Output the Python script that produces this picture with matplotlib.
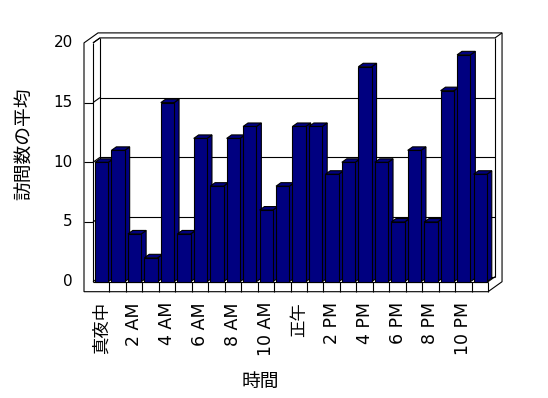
import numpy as np
import matplotlib
matplotlib.use("Agg")
import matplotlib.pyplot as plt
from matplotlib.patches import Polygon

# Data (average visits per hour)
hours = ['真夜中', '1 AM', '2 AM', '3 AM', '4 AM', '5 AM', '6 AM', '7 AM', '8 AM', '9 AM',
         '10 AM', '11 AM', '正午', '1 PM', '2 PM', '3 PM', '4 PM', '5 PM', '6 PM', '7 PM',
         '8 PM', '9 PM', '10 PM', '11 PM']
visits = [10, 11, 4, 2, 15, 4, 12, 8, 12, 13, 6, 8, 13, 13, 9, 10, 18, 10, 5, 11, 5, 16, 19, 9]
y_ticks = [0, 5, 10, 15, 20]
x_title = '時間'
y_title = '訪問数の平均'

bar_color = '#000080'
fonts = ['DejaVu Sans', 'Noto Sans CJK JP']

# pixel layout of the plot box (figure is 548x398)
W, H = 548, 398
cell_px, val_px = 16.46, 11.94
x0_px, y0_px = 93, 281.7

def px_x(p):
    return (p - x0_px) / cell_px

def px_y(p):
    return (y0_px - p) / val_px

DX, DY = 7 / cell_px, 5 / val_px      # one step of depth
n = len(visits)
top = y_ticks[-1]
xo = px_x(84)       # outer edge of the side wall
yb = px_y(291.7)    # underside of the floor

fig = plt.figure(figsize=(W / 100, H / 100), dpi=100)
ax = fig.add_axes([0, 0, 1, 1])
ax.set_xlim(px_x(0), px_x(W))
ax.set_ylim(px_y(H), px_y(0))
ax.axis('off')

lw = 0.8
def line(xs, ys, z=1):
    ax.plot(xs, ys, color='black', lw=lw, zorder=z, solid_capstyle='butt')

# walls and floor
outline = [(xo, top), (xo + 2 * DX, top + 2 * DY), (n + 2 * DX, top + 2 * DY),
           (n + 2 * DX, yb + 2 * DY), (n, yb), (xo, yb)]
ax.add_patch(Polygon(outline, closed=True, facecolor='white', edgecolor='black', lw=lw, zorder=0.5))

line([0, 0], [top, 0])
line([0, n], [0, 0])
line([0, DX, n + DX, n + 2 * DX], [top, top + DY, top + DY, top + 2 * DY])
line([DX, DX], [top + DY, DY])
line([n + DX, n + DX], [top + DY, DY])
line([n, n + DX], [0, DY])
line([n, n], [0, yb])
line([DX, n + DX], [DY, DY])
for k in range(1, n):
    line([k, k], [0, yb])
for v in y_ticks:
    line([0, DX], [v, v + DY])
    if 0 < v < top:
        line([xo, 0], [v, v])
        line([DX, n + DX], [v + DY, v + DY])

# 3D columns
bd = 0.7
x_left = np.arange(n) + 0.12
bw = 0.81
bars = ax.bar(x_left, visits, width=bw, align='edge', color=bar_color,
              edgecolor='black', linewidth=lw)
for i, (b, v) in enumerate(zip(bars, visits)):
    x0, x1 = x_left[i], x_left[i] + bw
    z = 2 + i * 0.01
    side = [(x1, 0), (x1 + bd * DX, bd * DY), (x1 + bd * DX, v + bd * DY), (x1, v)]
    cap = [(x0, v), (x1, v), (x1 + bd * DX, v + bd * DY), (x0 + bd * DX, v + bd * DY)]
    ax.add_patch(Polygon(side, closed=True, facecolor=bar_color, edgecolor='black', lw=lw, zorder=z))
    ax.add_patch(Polygon(cap, closed=True, facecolor=bar_color, edgecolor='black', lw=lw, zorder=z))
    b.set_zorder(z + 0.005)

# tick labels
for v in y_ticks:
    ax.text(px_x(72.7), v, str(v), ha='right', va='center', fontsize=11, family=fonts)
for i in range(0, n, 2):
    ax.text(i + 0.5, px_y(302), hours[i], rotation=90, ha='center', va='top',
            fontsize=12.5, family=fonts)

ax.text(px_x(260.5), px_y(381), x_title, ha='center', va='center', fontsize=13.5, family=fonts)
ax.text(px_x(24.2), px_y(143.3), y_title, rotation=90, ha='center', va='center',
        fontsize=13.5, family=fonts)

plt.savefig('out.png', dpi=100)
